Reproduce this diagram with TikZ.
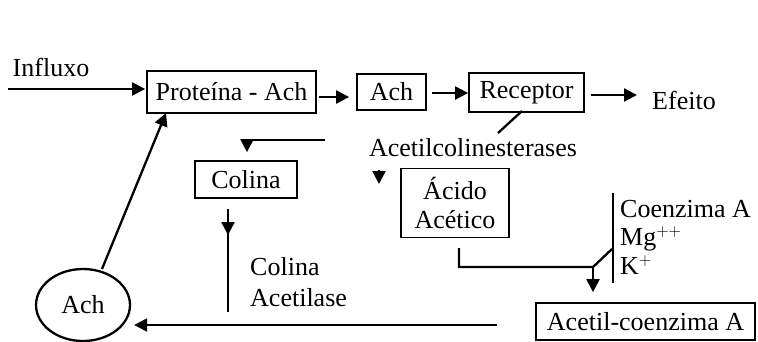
\documentclass[tikz,border=0pt]{standalone}
\usepackage{fontspec}
\setmainfont{Liberation Serif}
\usetikzlibrary{arrows.meta,shapes.geometric}
\begin{document}
\begin{tikzpicture}[x=1pt,y=-1pt,
  every node/.style={font=\fontsize{26}{30}\selectfont, inner sep=0pt},
  box/.style={draw, line width=1.8pt},
  conn/.style={line width=2.3pt},
  arr/.style={line width=2.3pt, -{Triangle[length=13pt,width=13pt]}},
  lbl/.style={anchor=west}]
\useasboundingbox (0,0) rectangle (758,341);
% nodes
\node (influxo) at (51,67) {Influxo};
\node[box, minimum width=169pt, minimum height=42pt] (prot) at (231.5,92) {Proteína - Ach};
\node[box, minimum width=69pt, minimum height=36pt] (ach) at (391.5,92) {Ach};
\node[box, minimum width=115pt, minimum height=39pt] (rec) at (526.5,92.5) {Receptor};
\node (efeito) at (684,100) {Efeito};
\node (aces) at (473,148) {Acetilcolinesterases};
\node[box, minimum width=102pt, minimum height=37pt] (colina) at (246,179.5) {Colina};
\node[box, minimum width=108pt, minimum height=69pt, align=center] (acido) at (455,203) {Ácido\\[-1pt]Acético};
\node[lbl] (coen) at (620,209) {Coenzima A};
\node[lbl] (mg) at (620,239) {Mg$^{++}$};
\node[lbl] (k) at (620,265) {K$^{+}$};
\node[lbl] (colac1) at (250,267) {Colina};
\node[lbl] (colac2) at (250,298) {Acetilase};
\node[draw, line width=2.3pt, ellipse, minimum width=94pt, minimum height=72pt] (achell) at (83,305) {Ach};
\node[box, minimum width=219pt, minimum height=37pt] (acoa) at (645.5,321.5) {Acetil-coenzima A};
% coordinates
\coordinate (inS) at (8,89);
\coordinate (recL) at (522,111);
\coordinate (acesT) at (498,133);
\coordinate (colS) at (325,140);
\coordinate (colC) at (247,140);
\coordinate (colA) at (228,209);
\coordinate (colB) at (228,312);
\coordinate (botS) at (497,325);
\coordinate (tickT) at (459,248);
\coordinate (tickB) at (459,267);
\coordinate (jn) at (593,267);
\coordinate (barT) at (613,193);
\coordinate (barB) at (613,283);
\coordinate (diag) at (612,249);
% connectors
\draw[arr, shorten >=1pt] (inS) -- (inS -| prot.west);
\draw[arr, shorten >=7pt, shorten <=2pt] (prot.east |- 0,97) -- (ach.west |- 0,97);
\draw[arr, shorten <=5pt] (ach.east |- 0,93) -- (rec.west |- 0,93);
\draw[arr, shorten <=6pt] (rec.east |- 0,95) -- (637,95);
\draw[conn] (recL) -- (acesT);
\draw[arr, shorten >=8pt] (colS) -- (colC) -- (colC |- colina.north);
\draw[arr] (379,170) -- (379,184);
\draw[arr] (colA) -- (228,235);
\draw[conn] (228,228) -- (colB);
\draw[arr, shorten >=3pt] (botS) -- (achell.east |- botS);
\draw[arr] (102,269) -- (166,113);
\draw[conn] (tickT) -- (tickB) -- (jn) -- (diag);
\draw[arr, shorten >=10pt] (jn) -- (jn |- acoa.north);
\draw[conn] (barT) -- (barB);
\end{tikzpicture}
\end{document}
